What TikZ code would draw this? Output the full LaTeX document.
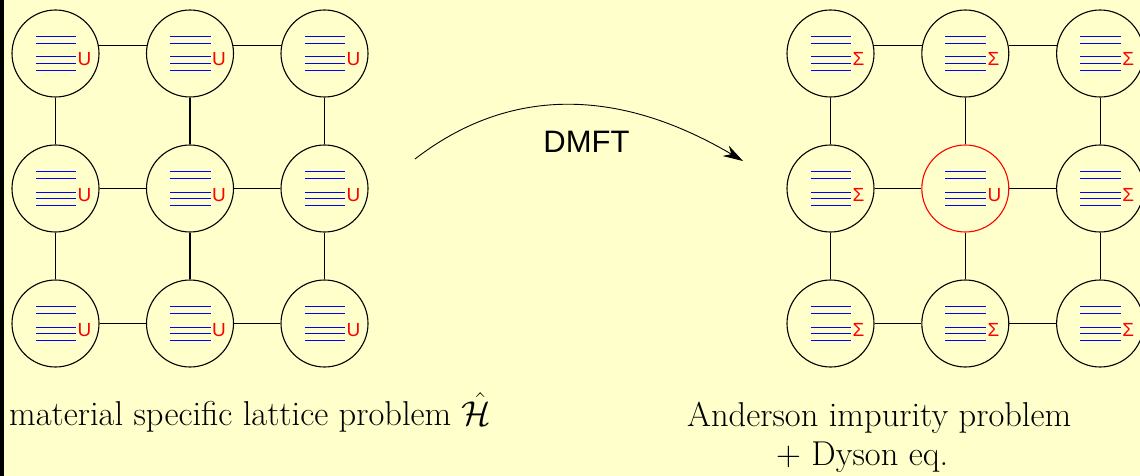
\RequirePackage{fix-cm}
\documentclass[tikz,border=0pt]{standalone}
\usepackage{fontspec}
\usepackage{tikz}
\usetikzlibrary{arrows.meta}
\newfontfamily\labelfont{Liberation Sans}
\definecolor{bgcolor}{RGB}{255,255,204}
\tikzset{
  site/.style={
    circle,
    draw=black,
    line width=1.1pt,
    minimum size=87pt,
    inner sep=0pt
  },
  bond/.style={
    draw=black,
    line width=1.1pt
  },
  level/.style={
    draw=blue,
    line width=1pt
  },
  pot/.style={
    anchor=base west,
    inner sep=0pt,
    text=red,
    font=\fontsize{19}{19}\labelfont
  },
  caption/.style={
    anchor=base west,
    inner sep=0pt,
    font=\fontsize{34.5}{41}\selectfont
  },
  flow/.style={
    -{Stealth[length=20pt,width=12pt]},
    line width=0.9pt
  }
}

\begin{document}
\begin{tikzpicture}[x=1pt,y=-1pt]
  \clip (0,0) rectangle (1140,476);
  \fill[bgcolor] (0,0) rectangle (1140,476);
  \fill[black] (0,0) rectangle (3.5,476);

  % Lattice (left) and impurity picture (right)
  \foreach \i in {0,1,2} {
    \foreach \j in {0,1,2} {
      \edef\sitecol{\ifnum\i\j=11 red\else black\fi}
      \edef\potlabel{\ifnum\i\j=11 U\else Σ\fi}
      \node[site] (L\i\j) at ({55.5+134.5*\i},{53.5+135*\j}) {};
      \node[site, draw=\sitecol] (R\i\j) at ({830.5+134.8*\i},{53.5+135*\j}) {};
      \foreach \dy in {-16.7,-10.1,3.5,10,16.6} {
        \draw[level] ([shift={(-20,\dy)}]L\i\j.center) -- ++(40.5,0);
        \draw[level] ([shift={(-20,\dy)}]R\i\j.center) -- ++(40.5,0);
      }
      \node[pot] (UL\i\j) at ([shift={(22,12.5)}]L\i\j.center) {U};
      \node[pot] (UR\i\j) at ([shift={(22,12.5)}]R\i\j.center) {\potlabel};
    }
  }

  % Bonds
  \foreach \g in {L,R} {
    % top row sits a bit high
    \draw[bond] (\g00.11) -- (\g10.169);
    \draw[bond] (\g10.11) -- (\g20.169);
    \foreach \j in {1,2} {
      \draw[bond] (\g0\j) -- (\g1\j);
      \draw[bond] (\g1\j) -- (\g2\j);
    }
    \foreach \i in {0,1,2} {
      \draw[bond] (\g\i0) -- (\g\i1);
      \draw[bond] (\g\i1) -- (\g\i2);
    }
  }

  % DMFT mapping
  \coordinate (dmft start) at (415,159);
  \coordinate (dmft end) at (743,161);
  \draw[flow] (dmft start) .. controls (508.7,86.5) and (617.7,87) .. (dmft end);
  \node[anchor=base, inner sep=0pt, font=\fontsize{31}{31}\labelfont] (dmft) at (586.5,152) {DMFT};

  % Captions
  \node[caption] (lattice) at (9,425) {material specific lattice problem $\hat{\mathcal{H}}$};
  \node[caption] (impurity) at (687,426) {Anderson impurity problem};
  \node[caption] (dyson) at (776,465) {$+$ Dyson eq.};
\end{tikzpicture}
\end{document}
